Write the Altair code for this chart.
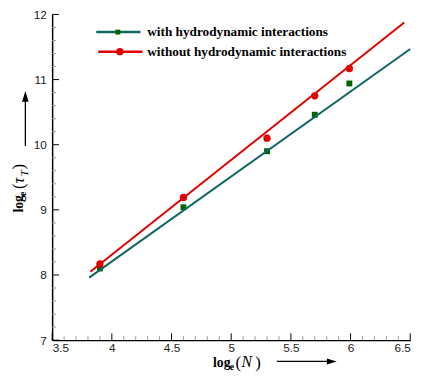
import altair as alt
import pandas as pd

# ---- data ----
logN = [3.9, 4.6, 5.3, 5.7, 5.99]
tau_with = [8.10, 9.04, 9.90, 10.46, 10.94]
tau_without = [8.17, 9.19, 10.10, 10.75, 11.17]

fit_with_x = [3.81, 6.50]
fit_with_y = [7.96, 11.47]
fit_without_x = [3.82, 6.45]
fit_without_y = [8.05, 11.875]

series_names = ["with hydrodynamic interactions", "without hydrodynamic interactions"]

x_major = [3.5, 4.0, 4.5, 5.0, 5.5, 6.0, 6.5]
x_minor = [round(3.5 + 0.1 * i, 2) for i in range(31) if i % 5 != 0]
y_major = [7, 8, 9, 10, 11, 12]
y_minor = [round(7 + 0.2 * i, 2) for i in range(26) if i % 5 != 0]

x_title = ["log", "e", "(", "N", ")"]
y_title = ["log", "e", "(", "τ", "T", ")"]

# ---- styling ----
W, H = 365, 332
GREEN_LINE = "#0f6662"
GREEN_MARK = "#006400"
RED = "#e00000"
SERIF = "Liberation Serif"
SANS = "Liberation Sans"

xs = alt.Scale(domain=[3.5, 6.5], nice=False, zero=False)
ys = alt.Scale(domain=[7, 12], nice=False, zero=False)
xa = alt.Axis(values=x_major, format="~g", title=None)
ya = alt.Axis(values=y_major, format="d", title=None)

def X(f):
    return alt.X(f, scale=xs, axis=xa)

def Y(f):
    return alt.Y(f, scale=ys, axis=ya)

pts = pd.DataFrame({"x": logN, "with": tau_with, "without": tau_without})
fw = pd.DataFrame({"x": fit_with_x, "y": fit_with_y})
fwo = pd.DataFrame({"x": fit_without_x, "y": fit_without_y})

pt_with = alt.Chart(pts).mark_point(shape="square", filled=True, opacity=1, size=36, color=GREEN_MARK).encode(
    x=X("x:Q"), y=Y("with:Q"))
pt_without = alt.Chart(pts).mark_point(shape="circle", filled=True, opacity=1, size=55, color=RED).encode(
    x=X("x:Q"), y=Y("without:Q"))
line_with = alt.Chart(fw).mark_line(color=GREEN_LINE, strokeWidth=2).encode(x=X("x:Q"), y=Y("y:Q"))
line_without = alt.Chart(fwo).mark_line(color=RED, strokeWidth=2).encode(x=X("x:Q"), y=Y("y:Q"))

# inward ticks
def xticks(vals, length, color):
    return alt.Chart(pd.DataFrame({"v": vals})).mark_rule(color=color, strokeWidth=1).encode(
        x=X("v:Q"), y=alt.value(H), y2=alt.value(H - length))

def yticks(vals, length, color):
    return alt.Chart(pd.DataFrame({"v": vals})).mark_rule(color=color, strokeWidth=1).encode(
        y=Y("v:Q"), x=alt.value(0), x2=alt.value(length))

ticks = [xticks(x_minor, 4, "#999999"), xticks(x_major, 7, "#000000"),
         yticks(y_minor, 4, "#999999"), yticks(y_major, 7, "#000000")]

one = pd.DataFrame({"a": [0]})

def txt(s, x, y, size, weight="normal", style="normal", angle=0, font=SERIF, baseline="alphabetic", align="left"):
    return alt.Chart(one).mark_text(text=s, font=font, fontSize=size, fontWeight=weight, fontStyle=style,
                                    angle=angle, align=align, baseline=baseline, color="black").encode(
        x=alt.value(x), y=alt.value(y))

def seg(x1, y1, x2, y2, color, width=2):
    return alt.Chart(one).mark_rule(color=color, strokeWidth=width).encode(
        x=alt.value(x1), x2=alt.value(x2), y=alt.value(y1), y2=alt.value(y2))

def sym(x, y, shape, size, color):
    return alt.Chart(one).mark_point(shape=shape, size=size, filled=True, opacity=1, color=color, strokeWidth=0).encode(
        x=alt.value(x), y=alt.value(y))

# legend
legend = [
    seg(45, 18, 90, 18, GREEN_LINE, 2.5), sym(67, 18, "square", 25, GREEN_MARK),
    txt(series_names[0], 97, 18, 13.5, weight="bold", baseline="middle"),
    seg(47, 38, 92, 38, RED, 2.5), sym(69, 38, "circle", 55, RED),
    txt(series_names[1], 97, 38, 13.5, weight="bold", baseline="middle"),
]

# x title
xt = [
    txt(x_title[0], 164, 359, 14, weight="bold"),
    txt(x_title[1], 181, 362, 10, weight="bold"),
    txt(x_title[2], 187, 360, 17),
    txt(x_title[3], 193, 359, 16, style="italic"),
    txt(x_title[4], 207, 360, 17),
    seg(229, 353.7, 285, 353.7, "black", 1.3),
    sym(285, 353.7, "M1,0L-1,-0.6L-1,0.6Z", 100, "black"),
]

# y title (rotated)
yt = [
    txt(y_title[0], -30, 202, 14, weight="bold", angle=270),
    txt(y_title[1], -27, 185, 10, weight="bold", angle=270),
    txt(y_title[2], -29, 178, 17, angle=270),
    txt(y_title[3], -29, 172, 16, style="italic", angle=270),
    txt(y_title[4], -25, 165, 11, style="italic", angle=270),
    txt(y_title[5], -29, 158, 17, angle=270),
    seg(-27.3, 134, -27.3, 86, "black", 1.3),
    sym(-27.3, 83.5, "M0,-1L0.6,1L-0.6,1Z", 121, "black"),
]

chart = alt.layer(
    pt_with, *ticks, line_with, line_without, pt_without, *legend, *xt, *yt
).properties(
    width=W, height=H,
    autosize=alt.AutoSizeParams(type="none"),
    padding={"left": 45, "top": 3, "right": 13, "bottom": 33},
    background="white",
).configure_view(stroke=None).configure_axis(
    domainColor="black", domainWidth=1.5, ticks=False, tickSize=0, grid=False,
    labelFont=SANS, labelFontSize=12, labelColor="#222222",
).configure_axisX(labelPadding=3).configure_axisY(labelPadding=6)

chart.save("out.html", embed_options={"renderer": "svg", "actions": False})
